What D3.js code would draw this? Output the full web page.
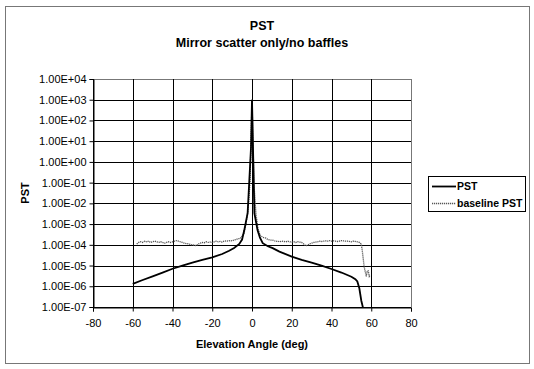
<!DOCTYPE html>
<html><head><meta charset="utf-8">
<script src="https://cdn.jsdelivr.net/npm/d3@7"></script>
<style>body{margin:0;background:#fff}svg{display:block;font-family:Arial,"Liberation Sans",sans-serif}</style>
</head><body>
<svg id="c" width="534" height="369"></svg>
<script>
const xTicks = [-80,-60,-40,-20,0,20,40,60,80];
const yTickLabels = ["1.00E-07","1.00E-06","1.00E-05","1.00E-04","1.00E-03","1.00E-02","1.00E-01","1.00E+00","1.00E+01","1.00E+02","1.00E+03","1.00E+04"];
const yTicks = [1e-7,1e-6,1e-5,1e-4,1e-3,1e-2,1e-1,1,1e1,1e2,1e3,1e4];

const pstX = [-60,-55,-50,-45,-40,-35,-30,-25,-20,-15,-11.5,-9,-6.4,-5,-3.9,-2.2,-1.4,-0.5,0,0.5,1.2,2.8,4,5.4,8,10.4,13.8,20,25,30,35,40,45,50,52,53,54,55,56];
const pstY = [1.3e-6,2.0e-6,3.0e-6,4.6e-6,7.0e-6,1.0e-5,1.4e-5,1.9e-5,2.5e-5,3.6e-5,5.2e-5,7.0e-5,1.1e-4,1.8e-4,5e-4,3.4e-3,1e-1,5,1e3,5,3.4e-3,5e-4,2.2e-4,1.2e-4,8.5e-5,6.9e-5,4.7e-5,2.7e-5,1.9e-5,1.4e-5,1.0e-5,6.8e-6,4.6e-6,2.9e-6,2.2e-6,1.7e-6,8e-7,2e-7,8e-8];

const baseX = [-58,-57,-56,-55,-54,-53,-52,-51,-50,-49,-48,-47,-46,-45,-44,-43,-42,-41,-40,-39,-38,-37,-36,-35,-34,-33,-32,-31,-30,-29,-28,-27,-26,-25,-24,-23,-22,-21,-20,-19,-18,-17,-16,-15,-14,-13,-12,-11,-10,-9,-8,-7,-6,-5,-4,-3,-2,-1,-0.5,0,0.5,1,2,3,4,5,6,7,8,9,10,11,12,13,14,15,16,17,18,19,20,21,22,23,24,25,26,27,28,29,30,31,32,33,34,35,36,37,38,39,40,41,42,43,44,45,46,47,48,49,50,51,52,53,54,55,55.5,56,56.5,57,57.5,58,58.5,59,59.5];
const baseY = [1.1e-4,1.3e-4,1.4e-4,1.3e-4,1.5e-4,1.4e-4,1.5e-4,1.3e-4,1.4e-4,1.5e-4,1.4e-4,1.3e-4,1.4e-4,1.3e-4,1.2e-4,1.3e-4,1.4e-4,1.3e-4,1.4e-4,1.5e-4,1.6e-4,1.5e-4,1.4e-4,1.3e-4,1.2e-4,1.15e-4,1.1e-4,1.05e-4,1.0e-4,9.5e-5,9e-5,1.1e-4,1.2e-4,1.3e-4,1.25e-4,1.4e-4,1.3e-4,1.35e-4,1.3e-4,1.4e-4,1.5e-4,1.4e-4,1.45e-4,1.35e-4,1.5e-4,1.55e-4,1.5e-4,1.6e-4,1.55e-4,1.7e-4,1.8e-4,2.0e-4,2.0e-4,2.6e-4,3.6e-4,1.1e-3,5e-3,1e-1,10,1e3,10,8e-2,3e-3,6e-4,3e-4,2.5e-4,2.2e-4,2.1e-4,1.8e-4,1.7e-4,1.7e-4,1.6e-4,1.45e-4,1.5e-4,1.4e-4,1.5e-4,1.45e-4,1.4e-4,1.5e-4,1.4e-4,1.35e-4,1.4e-4,1.3e-4,1.4e-4,1.35e-4,1.3e-4,1.1e-4,9e-5,9.5e-5,1.1e-4,1.2e-4,1.3e-4,1.35e-4,1.4e-4,1.5e-4,1.45e-4,1.5e-4,1.55e-4,1.5e-4,1.6e-4,1.5e-4,1.55e-4,1.5e-4,1.45e-4,1.5e-4,1.6e-4,1.55e-4,1.5e-4,1.5e-4,1.45e-4,1.4e-4,1.5e-4,1.45e-4,1.4e-4,1.3e-4,1.1e-4,5e-5,2e-5,8e-6,5e-6,3e-6,5.5e-6,5.5e-6,3e-6,3.5e-6];

const svg = d3.select("#c");
const L = 93, R = 411, T = 79, B = 307;
const x = d3.scaleLinear().domain([-80,80]).range([L,R]);
const y = d3.scaleLog().domain([1e-7,1e4]).range([B,T]);

svg.append("rect").attr("x",5.5).attr("y",6.5).attr("width",524).attr("height",357)
  .attr("fill","none").attr("stroke","#777").attr("stroke-width",1);

svg.append("text").attr("x",262).attr("y",30).attr("text-anchor","middle").attr("font-size",12.5).attr("font-weight","bold").text("PST");
svg.append("text").attr("x",262).attr("y",47).attr("text-anchor","middle").attr("font-size",12.5).attr("font-weight","bold").text("Mirror scatter only/no baffles");

const g = svg.append("g");
g.selectAll("line.h").data(yTicks).join("line")
  .attr("x1",L).attr("x2",R).attr("y1",d=>Math.round(y(d))+0.5).attr("y2",d=>Math.round(y(d))+0.5)
  .attr("stroke",(d,i)=> i===yTicks.length-1 ? "#777":"#000").attr("stroke-width",1);
g.selectAll("line.v").data(xTicks).join("line")
  .attr("y1",T).attr("y2",B).attr("x1",d=>Math.round(x(d))+0.5).attr("x2",d=>Math.round(x(d))+0.5)
  .attr("stroke",(d,i)=> i===xTicks.length-1 ? "#777":"#000").attr("stroke-width",1);

const yAxis = d3.axisLeft(y).tickValues(yTicks).tickFormat((d,i)=>yTickLabels[i]).tickSize(4).tickPadding(3);
const ya = svg.append("g").attr("transform",`translate(${Math.round(L)+0.5},0)`).call(yAxis);
const xAxis = d3.axisBottom(x).tickValues(xTicks).tickFormat(d=>d).tickSize(4).tickPadding(8);
const xa = svg.append("g").attr("transform",`translate(0,${Math.round(B)+0.5})`).call(xAxis);
[ya,xa].forEach(a=>{a.select(".domain").attr("stroke","#000");a.selectAll("text").attr("font-size",11).attr("fill","#000").attr("font-family","Arial, 'Liberation Sans', sans-serif");a.selectAll(".tick line").attr("stroke","#000");});

svg.append("text").attr("transform","translate(29,193) rotate(-90)").attr("text-anchor","middle").attr("font-size",11).attr("font-weight","bold").text("PST");
svg.append("text").attr("x",252).attr("y",348).attr("text-anchor","middle").attr("font-size",11).attr("font-weight","bold").text("Elevation Angle (deg)");

svg.append("clipPath").attr("id","clip").append("rect").attr("x",L).attr("y",T).attr("width",R-L).attr("height",B-T);

const line = d3.line().x(d=>x(d[0])).y(d=>y(d[1]));
const baseData = baseX.map((v,i)=>[v,baseY[i]]);
const pstData = pstX.map((v,i)=>[v,pstY[i]]);

svg.append("path").attr("clip-path","url(#clip)").datum(baseData).attr("d",line)
  .attr("fill","none").attr("stroke","#555").attr("stroke-width",1.3).attr("stroke-dasharray","1.2,0.8");
svg.append("path").attr("clip-path","url(#clip)").datum(pstData).attr("d",line)
  .attr("fill","none").attr("stroke","#000").attr("stroke-width",1.8);

const lg = svg.append("g");
lg.append("rect").attr("x",428.5).attr("y",176.5).attr("width",97).attr("height",35).attr("fill","#fff").attr("stroke","#000").attr("stroke-width",1);
lg.append("line").attr("x1",432).attr("x2",456).attr("y1",186.5).attr("y2",186.5).attr("stroke","#000").attr("stroke-width",1.8);
lg.append("line").attr("x1",432).attr("x2",456).attr("y1",203.5).attr("y2",203.5).attr("stroke","#555").attr("stroke-width",1.3).attr("stroke-dasharray","1.2,0.8");
lg.append("text").attr("x",457).attr("y",190).attr("font-size",10.5).attr("font-weight","bold").text("PST");
lg.append("text").attr("x",457).attr("y",207).attr("font-size",10.5).attr("font-weight","bold").text("baseline PST");
</script>
</body></html>
